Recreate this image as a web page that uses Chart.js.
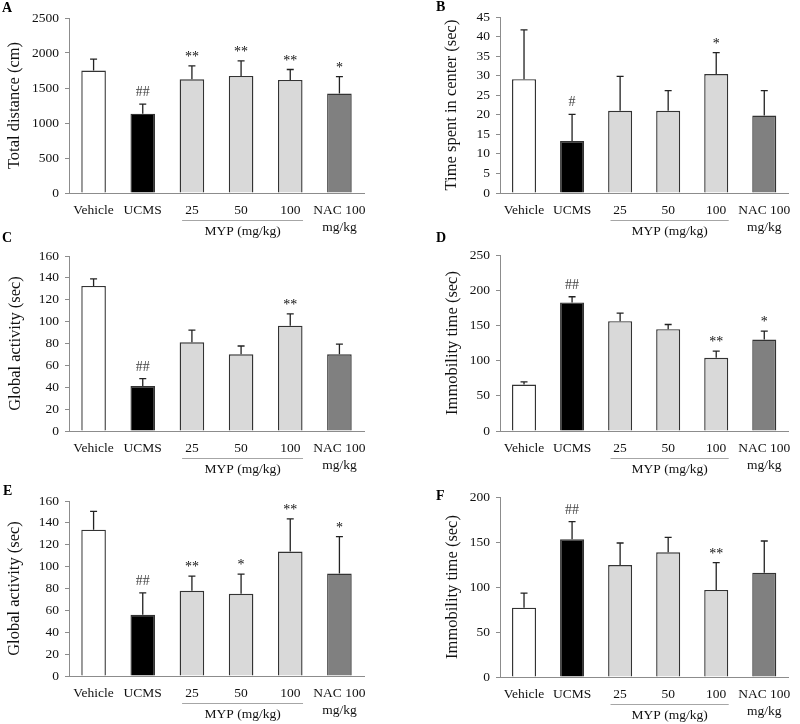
<!DOCTYPE html>
<html>
<head>
<meta charset="utf-8">
<script src="https://cdn.jsdelivr.net/npm/chart.js@4.4.1/dist/chart.umd.min.js"></script>
<style>
  html, body { margin: 0; padding: 0; background: #fff; }
  #wrap { position: relative; width: 800px; height: 724px; overflow: hidden; }
  #wrap canvas { position: absolute; }
  .letter { position: absolute; font: bold 14px 'Liberation Serif', serif; color: #000; line-height: 14px; }
</style>
</head>
<body>
<div id="wrap">
  <canvas id="chartA" style="left:0;top:0"></canvas>
  <canvas id="chartB" style="left:400px;top:0"></canvas>
  <canvas id="chartC" style="left:0;top:240px"></canvas>
  <canvas id="chartD" style="left:400px;top:240px"></canvas>
  <canvas id="chartE" style="left:0;top:480px"></canvas>
  <canvas id="chartF" style="left:400px;top:480px"></canvas>
  <div class="letter" style="left:2px;top:1px">A</div>
  <div class="letter" style="left:436px;top:0px">B</div>
  <div class="letter" style="left:2px;top:231px">C</div>
  <div class="letter" style="left:436px;top:231px">D</div>
  <div class="letter" style="left:3px;top:484px">E</div>
  <div class="letter" style="left:436px;top:489px">F</div>
</div>
<script>
// groups on the x axis (last one wraps onto two lines)
const categories = ['Vehicle', 'UCMS', '25', '50', '100', ['NAC 100', 'mg/kg']];

// A - total distance (cm)
const distanceMean = [1750, 1133, 1625, 1673, 1616, 1420];
const distanceErr = [162, 138, 191, 215, 148, 243];
const distanceSig = ['', '##', '**', '**', '**', '*'];
const distanceTicks = [0, 500, 1000, 1500, 2000, 2500];

// B - time spent in center (sec)
const centerMean = [29.1, 13.3, 21.0, 21.0, 30.4, 19.8];
const centerErr = [12.6, 6.8, 8.8, 5.2, 5.5, 6.4];
const centerSig = ['', '#', '', '', '*', ''];
const centerTicks = [0, 5, 10, 15, 20, 25, 30, 35, 40, 45];

// C - global activity (sec)
const activityCMean = [132.6, 41.1, 81.1, 70.1, 96.3, 70.1];
const activityCErr = [6.4, 6.7, 11.2, 7.6, 10.7, 9.4];
const activityCSig = ['', '##', '', '', '**', ''];
const activityCTicks = [0, 20, 40, 60, 80, 100, 120, 140, 160];

// D - immobility time (sec)
const immobDMean = [65.9, 182.6, 156.0, 144.7, 103.9, 130.0];
const immobDErr = [3.8, 8.1, 11.5, 6.6, 9.5, 11.8];
const immobDSig = ['', '##', '', '', '**', '*'];
const immobDTicks = [0, 50, 100, 150, 200, 250];

// E - global activity (sec)
const activityEMean = [133.8, 56.0, 77.9, 75.1, 113.8, 93.7];
const activityEErr = [16.8, 20.0, 13.4, 18.0, 29.8, 33.8];
const activityESig = ['', '##', '**', '*', '**', '*'];
const activityETicks = [0, 20, 40, 60, 80, 100, 120, 140, 160];

// F - immobility time (sec)
const immobFMean = [77.0, 153.0, 124.4, 138.5, 96.7, 115.9];
const immobFErr = [16.3, 19.6, 24.5, 16.7, 30.3, 35.2];
const immobFSig = ['', '##', '', '', '**', ''];
const immobFTicks = [0, 50, 100, 150, 200];

const barFills = ['#ffffff', '#000000', '#d9d9d9', '#d9d9d9', '#d9d9d9', '#808080'];
const serif = "'Liberation Serif', 'Times New Roman', serif";
const axisGray = '#8c8c8c';

// error bars, significance marks and the MYP bracket
const panelExtras = {
  id: 'panelExtras',
  afterDatasetsDraw: (chart, args, opts) => {
    const { ctx, scales: { x, y } } = chart;
    const meta = chart.getDatasetMeta(0);
    ctx.save();
    meta.data.forEach((bar, i) => {
      const top = y.getPixelForValue(opts.mean[i] + opts.err[i]);
      ctx.beginPath();
      ctx.strokeStyle = '#222';
      ctx.lineWidth = 1.3;
      ctx.moveTo(bar.x, bar.y);
      ctx.lineTo(bar.x, top);
      ctx.moveTo(bar.x - 3.5, top);
      ctx.lineTo(bar.x + 3.5, top);
      ctx.stroke();

      const mark = opts.sig[i];
      if (mark) {
        ctx.font = '14px ' + serif;
        ctx.textAlign = 'center';
        ctx.textBaseline = 'alphabetic';
        ctx.fillStyle = mark[0] === '#' ? '#444' : '#111';
        ctx.fillText(mark, bar.x, top - (mark[0] === '#' ? 8 : 5));
      }
    });
    ctx.restore();
  },
  afterDraw: (chart) => {
    const { ctx, scales: { x } } = chart;
    const w = x.getPixelForValue(1) - x.getPixelForValue(0);
    const x0 = x.getPixelForValue(2) - 0.2 * w;
    const x1 = x.getPixelForValue(4) + 0.26 * w;
    const yLine = x.top + 27;
    ctx.save();
    ctx.beginPath();
    ctx.strokeStyle = '#a6a6a6';
    ctx.lineWidth = 1;
    ctx.moveTo(x0, yLine + 0.5);
    ctx.lineTo(x1, yLine + 0.5);
    ctx.stroke();
    ctx.font = '13.5px ' + serif;
    ctx.fillStyle = '#111';
    ctx.textAlign = 'center';
    ctx.textBaseline = 'middle';
    ctx.fillText('MYP (mg/kg)', (x0 + x1) / 2, yLine + 11);
    ctx.restore();
  }
};

function makePanel(id, size, box, title, mean, err, sig, ticks) {
  const canvas = document.getElementById(id);
  canvas.width = size[0];
  canvas.height = size[1];
  canvas.style.width = size[0] + 'px';
  canvas.style.height = size[1] + 'px';
  const [left, top, right, bottom, titleX] = box;

  return new Chart(canvas, {
    type: 'bar',
    data: {
      labels: categories,
      datasets: [{
        data: mean,
        backgroundColor: barFills,
        borderColor: '#333',
        borderWidth: 1.4,
        barPercentage: 0.5,
        categoryPercentage: 1.0,
      }]
    },
    options: {
      responsive: false,
      animation: false,
      events: [],
      layout: {
        padding: { top: top, right: size[0] - right, bottom: 0, left: 0 }
      },
      plugins: {
        legend: { display: false },
        tooltip: { enabled: false },
        panelExtras: { mean: mean, err: err, sig: sig },
      },
      scales: {
        x: {
          grid: { display: false, drawTicks: false },
          border: { display: true, color: axisGray, width: 1 },
          ticks: {
            color: '#111',
            padding: 9,
            maxRotation: 0,
            autoSkip: false,
            font: { family: serif, size: 13.5, lineHeight: '17px' },
          },
          afterFit: (s) => { s.height = size[1] - bottom; },
        },
        y: {
          min: ticks[0],
          max: ticks[ticks.length - 1],
          afterBuildTicks: (s) => { s.ticks = ticks.map(v => ({ value: v })); },
          grid: { drawOnChartArea: false, drawTicks: true, tickLength: 4, color: axisGray },
          border: { display: true, color: axisGray, width: 1 },
          ticks: {
            color: '#111',
            padding: 6,
            font: { family: serif, size: 13.5 },
            callback: (v) => String(v),
          },
          title: {
            display: true,
            text: title,
            color: '#111',
            font: { family: serif, size: 16.5 },
            padding: { top: titleX - 9.9, bottom: 0 },
          },
          afterFit: (s) => { s.width = left; },
        }
      }
    },
    plugins: [panelExtras],
  });
}

makePanel('chartA', [400, 240], [69, 18, 364, 193, 15], 'Total distance (cm)',
  distanceMean, distanceErr, distanceSig, distanceTicks);
makePanel('chartB', [400, 240], [100, 17, 392, 193, 52], 'Time spent in center (sec)',
  centerMean, centerErr, centerSig, centerTicks);
makePanel('chartC', [400, 240], [69, 16, 364, 191, 16], 'Global activity (sec)',
  activityCMean, activityCErr, activityCSig, activityCTicks);
makePanel('chartD', [400, 240], [100, 15, 392, 191, 53], 'Immobility time (sec)',
  immobDMean, immobDErr, immobDSig, immobDTicks);
makePanel('chartE', [400, 244], [69, 21, 364, 196, 15], 'Global activity (sec)',
  activityEMean, activityEErr, activityESig, activityETicks);
makePanel('chartF', [400, 244], [100, 17, 392, 197, 53], 'Immobility time (sec)',
  immobFMean, immobFErr, immobFSig, immobFTicks);
</script>
</body>
</html>
